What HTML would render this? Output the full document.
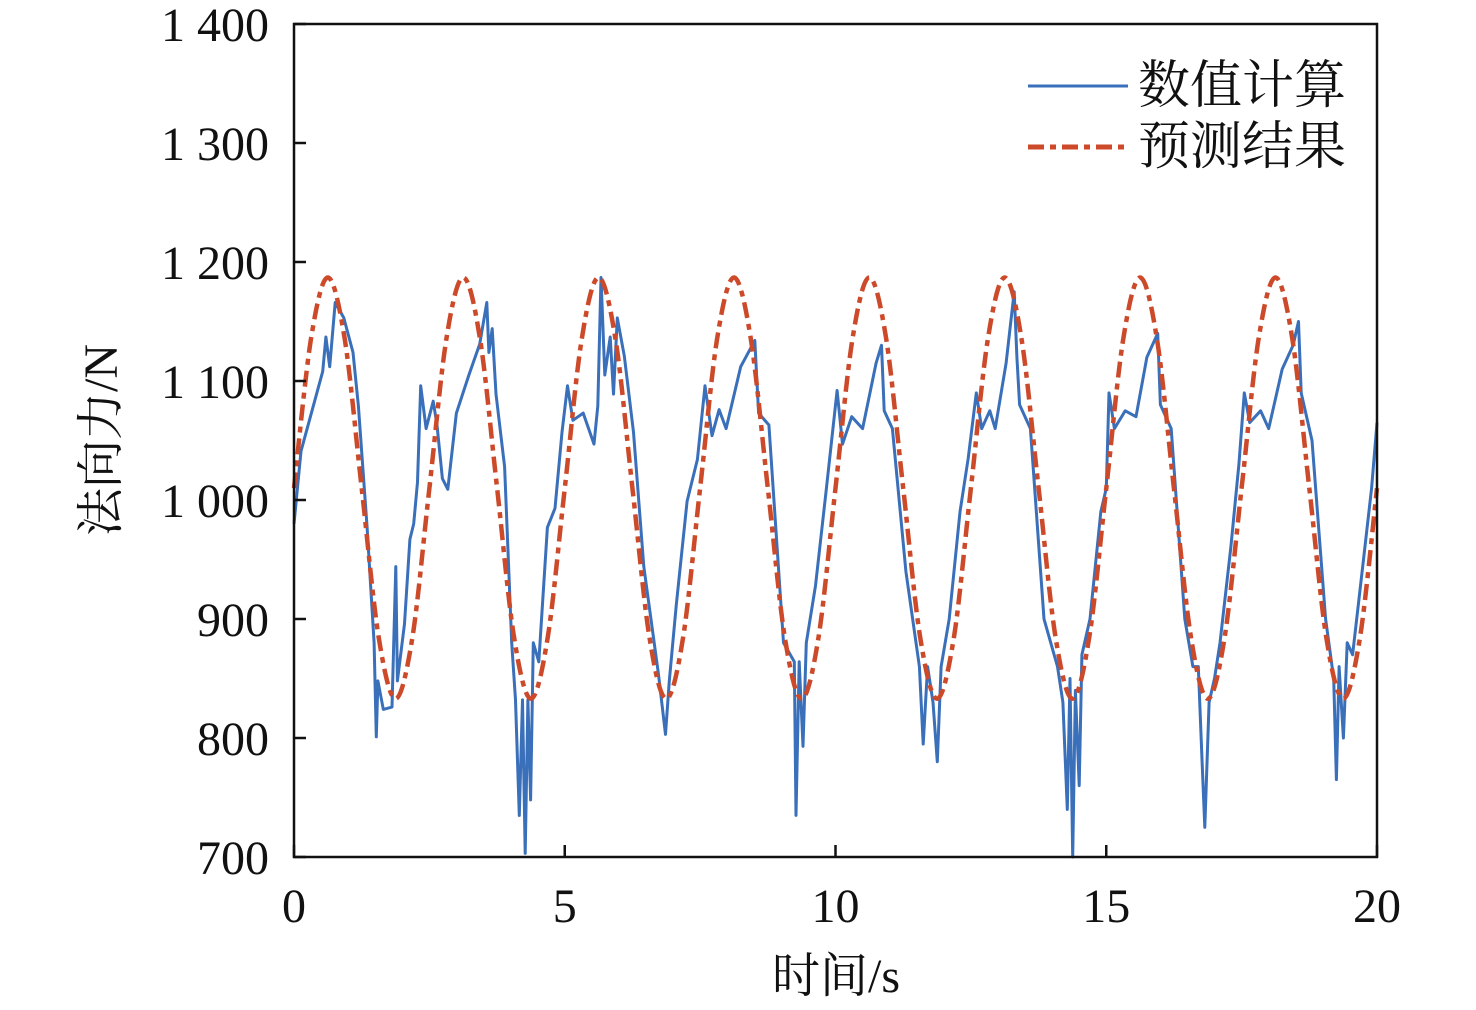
<!DOCTYPE html>
<html><head><meta charset="utf-8"><style>
html,body{margin:0;padding:0;background:#fff;}
svg{display:block;}
text{font-family:"Liberation Serif","Noto Serif CJK SC",serif;fill:#111;}
</style></head><body>
<svg id="chart" width="1476" height="1010" viewBox="0 0 1476 1010">
<g id="plot"></g>
<g id="axes"></g>
<g>
  <line x1="1028" y1="86" x2="1128" y2="86" stroke="#3a6fba" stroke-width="3"/>
  <text x="1138" y="103" font-size="52">数值计算</text>
  <line x1="1028" y1="147" x2="1128" y2="147" stroke="#cc4a2a" stroke-width="5" stroke-dasharray="16,6,6,6"/>
  <text x="1138" y="164" font-size="52">预测结果</text>
</g>
<text x="836" y="992" font-size="48" text-anchor="middle">时间/s</text>
<text transform="translate(117,440) rotate(-90)" font-size="48" text-anchor="middle">法向力/N</text>
</svg>
<script>
const xTicks = [0, 5, 10, 15, 20];
const yTicks = [700, 800, 900, 1000, 1100, 1200, 1300, 1400];
const yTickLabels = ["700", "800", "900", "1 000", "1 100", "1 200", "1 300", "1 400"];

const blueT = [0,0.13,0.53,0.59,0.66,0.76,0.92,1.09,1.19,1.35,1.48,1.52,1.55,1.65,1.81,1.88,1.91,2.04,2.14,2.21,2.28,2.34,2.44,2.57,2.64,2.74,2.84,3.0,3.23,3.43,3.56,3.6,3.66,3.73,3.89,4.02,4.09,4.16,4.22,4.27,4.32,4.37,4.42,4.52,4.68,4.82,4.95,5.05,5.15,5.34,5.54,5.61,5.67,5.74,5.84,5.9,5.97,6.1,6.27,6.46,6.73,6.86,6.93,7.06,7.26,7.45,7.59,7.72,7.85,7.98,8.25,8.51,8.58,8.77,9.04,9.24,9.27,9.33,9.4,9.46,9.63,9.83,10.03,10.13,10.3,10.5,10.75,10.85,10.9,11.05,11.3,11.55,11.62,11.7,11.8,11.88,11.95,12.1,12.3,12.45,12.6,12.7,12.85,12.95,13.15,13.3,13.35,13.4,13.6,13.85,14.1,14.2,14.28,14.33,14.38,14.43,14.5,14.55,14.7,14.9,15.0,15.05,15.15,15.35,15.55,15.75,15.95,16.0,16.2,16.45,16.6,16.7,16.77,16.82,16.9,17.0,17.1,17.3,17.45,17.55,17.65,17.85,18.0,18.25,18.45,18.55,18.6,18.8,19.05,19.2,19.25,19.3,19.38,19.45,19.55,19.75,19.9,20.0];
const blueV = [980,1041,1108,1137,1112,1166,1153,1124,1079,977,880,801,848,824,826,944,848,896,967,980,1015,1096,1060,1083,1063,1018,1009,1073,1105,1131,1166,1124,1144,1089,1028,880,832,735,832,703,832,748,880,864,977,993,1057,1096,1067,1073,1047,1079,1187,1105,1137,1089,1153,1121,1057,944,854,803,848,912,999,1034,1096,1054,1076,1060,1112,1134,1073,1063,880,864,735,864,793,880,928,1009,1092,1047,1070,1060,1115,1130,1075,1060,940,860,795,860,830,780,860,900,990,1035,1090,1060,1075,1060,1115,1175,1120,1080,1060,900,860,830,740,850,700,840,760,870,900,990,1010,1090,1060,1075,1070,1120,1140,1080,1060,900,860,860,780,725,830,850,880,960,1030,1090,1065,1075,1060,1110,1130,1150,1090,1050,900,850,765,860,800,880,870,950,1010,1065];

const redT = [0,0.3125,0.625,0.9375,1.25,1.5625,1.875,2.1875,2.5,2.8125,3.125,3.4375,3.75,4.0625,4.375,4.6875,5,5.3125,5.625,5.9375,6.25,6.5625,6.875,7.1875,7.5,7.8125,8.125,8.4375,8.75,9.0625,9.375,9.6875,10,10.3125,10.625,10.9375,11.25,11.5625,11.875,12.1875,12.5,12.8125,13.125,13.4375,13.75,14.0625,14.375,14.6875,15,15.3125,15.625,15.9375,16.25,16.5625,16.875,17.1875,17.5,17.8125,18.125,18.4375,18.75,19.0625,19.375,19.6875,20];
const redV = [1010,1135,1187,1135,1010,885,833,885,1010,1135,1187,1135,1010,885,833,885,1010,1135,1187,1135,1010,885,833,885,1010,1135,1187,1135,1010,885,833,885,1010,1135,1187,1135,1010,885,833,885,1010,1135,1187,1135,1010,885,833,885,1010,1135,1187,1135,1010,885,833,885,1010,1135,1187,1135,1010,885,833,885,1010];

const X0=294, X1=1377, Y0=857, Y1=24;
function xs(t){return X0+(t-0)/(20-0)*(X1-X0);}
function ys(v){return Y0-(v-700)/(1400-700)*(Y0-Y1);}
const NS='http://www.w3.org/2000/svg';
const plot=document.getElementById('plot'), axes=document.getElementById('axes');

let d='';
blueT.forEach((t,i)=>{d+=(i?'L':'M')+xs(t).toFixed(1)+','+ys(blueV[i]).toFixed(1);});
const bp=document.createElementNS(NS,'path');
bp.setAttribute('d',d);bp.setAttribute('fill','none');bp.setAttribute('stroke','#3a6fba');bp.setAttribute('stroke-width','3');bp.setAttribute('stroke-linejoin','round');


plot.appendChild(bp);

const P=redT.map((t,i)=>[xs(t),ys(redV[i])]);
let rd='M'+P[0][0]+','+P[0][1];
for(let i=0;i<P.length-1;i++){
  const p0=P[Math.max(0,i-1)],p1=P[i],p2=P[i+1],p3=P[Math.min(P.length-1,i+2)];
  const c1=[p1[0]+(p2[0]-p0[0])/6,p1[1]+(p2[1]-p0[1])/6];
  const c2=[p2[0]-(p3[0]-p1[0])/6,p2[1]-(p3[1]-p1[1])/6];
  rd+='C'+c1[0].toFixed(1)+','+c1[1].toFixed(1)+' '+c2[0].toFixed(1)+','+c2[1].toFixed(1)+' '+p2[0].toFixed(1)+','+p2[1].toFixed(1);
}
const rp=document.createElementNS(NS,'path');
rp.setAttribute('d',rd);rp.setAttribute('fill','none');rp.setAttribute('stroke','#cc4a2a');rp.setAttribute('stroke-width','4.5');rp.setAttribute('stroke-dasharray','16,6,6,6');


plot.appendChild(rp);

const fr=document.createElementNS(NS,'rect');
fr.setAttribute('x',X0);fr.setAttribute('y',Y1);fr.setAttribute('width',X1-X0);fr.setAttribute('height',Y0-Y1);
fr.setAttribute('fill','none');fr.setAttribute('stroke','#111');fr.setAttribute('stroke-width','2.5');


axes.appendChild(fr);

xTicks.forEach(t=>{
  const l=document.createElementNS(NS,'line');
  l.setAttribute('x1',xs(t));l.setAttribute('x2',xs(t));l.setAttribute('y1',Y0);l.setAttribute('y2',Y0-12);
  l.setAttribute('stroke','#111');l.setAttribute('stroke-width','2.5');
  
  
  axes.appendChild(l);
  const tx=document.createElementNS(NS,'text');
  tx.setAttribute('x',xs(t));tx.setAttribute('y',922);tx.setAttribute('font-size','48');tx.setAttribute('text-anchor','middle');
  tx.textContent=String(t);
  
  
  axes.appendChild(tx);
});
yTicks.forEach((v,i)=>{
  const l=document.createElementNS(NS,'line');
  l.setAttribute('x1',X0);l.setAttribute('x2',X0+12);l.setAttribute('y1',ys(v));l.setAttribute('y2',ys(v));
  l.setAttribute('stroke','#111');l.setAttribute('stroke-width','2.5');
  
  
  axes.appendChild(l);
  const tx=document.createElementNS(NS,'text');
  tx.setAttribute('x',269);tx.setAttribute('y',ys(v)+17);tx.setAttribute('font-size','48');tx.setAttribute('text-anchor','end');
  tx.textContent=yTickLabels[i];
  
  
  axes.appendChild(tx);
});
</script>
</body></html>
